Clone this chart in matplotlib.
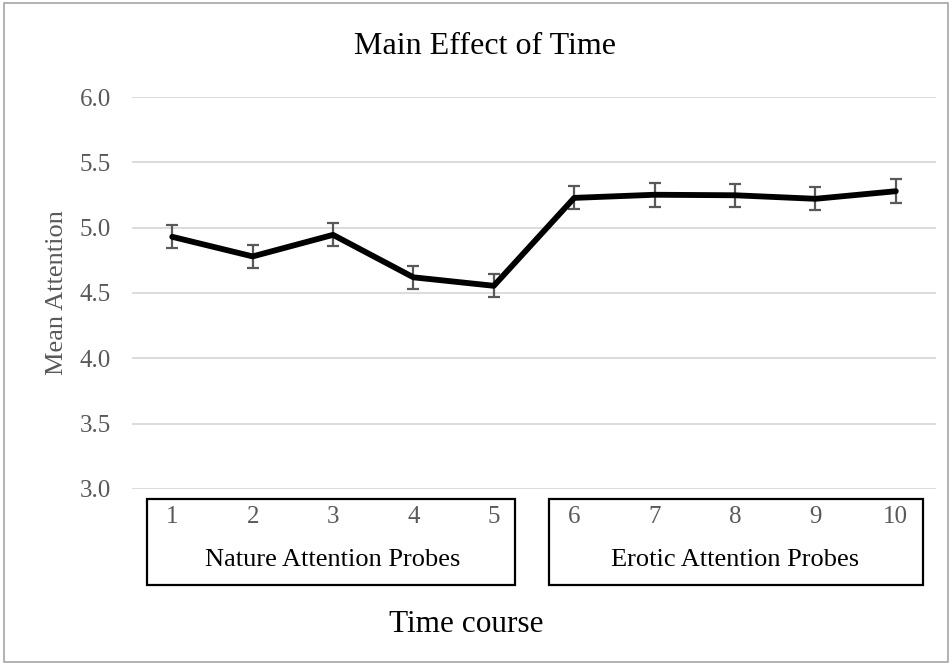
import matplotlib
matplotlib.use("Agg")
import matplotlib.pyplot as plt
from matplotlib.patches import Rectangle
import matplotlib.transforms as mtransforms

plt.rcParams['font.family'] = ['Liberation Serif', 'DejaVu Serif']

time_points = [1, 2, 3, 4, 5, 6, 7, 8, 9, 10]
mean_attention = [4.93, 4.78, 4.945, 4.62, 4.555, 5.228, 5.252, 5.248, 5.221, 5.279]
std_error = [0.087, 0.088, 0.088, 0.087, 0.087, 0.088, 0.09, 0.09, 0.088, 0.09]
y_ticks = [3.0, 3.5, 4.0, 4.5, 5.0, 5.5, 6.0]
groups = ["Nature Attention Probes", "Erotic Attention Probes"]
group_spans = [(1, 5), (6, 10)]

gray = '#595959'

fig = plt.figure(figsize=(9.52, 6.65), dpi=100)
ax = fig.add_axes([0.1387, 0.2647, 0.8445, 0.5894])

# outer chart border
fig.patches.append(Rectangle((0.004, 0.004), 0.992, 0.992, transform=fig.transFigure,
                             fill=False, edgecolor='#a6a6a6', linewidth=1.2))

ax.errorbar(time_points, mean_attention, yerr=std_error, color='black', linewidth=4.2,
            ecolor=gray, elinewidth=1.6, capsize=4.5, capthick=1.6, zorder=3,
            solid_capstyle='round', solid_joinstyle='round')

ax.set_xlim(0.5, 10.5)
ax.set_ylim(3.0, 6.0)
ax.set_yticks(y_ticks)
ax.set_yticklabels([f"{v:.1f}" for v in y_ticks], color=gray, fontsize=18)
ax.yaxis.grid(True, color='#d9d9d9', linewidth=1.3)
ax.set_axisbelow(True)
ax.tick_params(axis='y', length=0, pad=15)
ax.set_xticks([])
for side in ax.spines:
    ax.spines[side].set_visible(False)

fig.text(485 / 952, 1 - 46 / 665, "Main Effect of Time", ha='center', va='center', fontsize=23)
fig.text(57 / 952, 0.5 * (2 - (97 + 489) / 665), "Mean Attention", rotation=90,
         ha='center', va='center', color=gray, fontsize=19)

trans = mtransforms.blended_transform_factory(ax.transData, ax.transAxes)
for t in time_points:
    ax.text(t, -0.072, str(t), transform=trans, ha='center', va='center',
            color=gray, fontsize=18)

for name, (a, b) in zip(groups, group_spans):
    x0 = a - 0.31
    x1 = b + 0.26 if b == 5 else b + 0.34
    ax.add_patch(Rectangle((x0, -0.245), x1 - x0, 0.22, transform=trans, fill=False,
                           edgecolor='black', linewidth=1.6, clip_on=False))
    ax.text((a + b) / 2, -0.18, name, transform=trans, ha='center', va='center',
            color='black', fontsize=19)

fig.text(466 / 952, 1 - 625 / 665, "Time course", ha='center', va='center', fontsize=22.5)

fig.savefig("out.png", dpi=100)
